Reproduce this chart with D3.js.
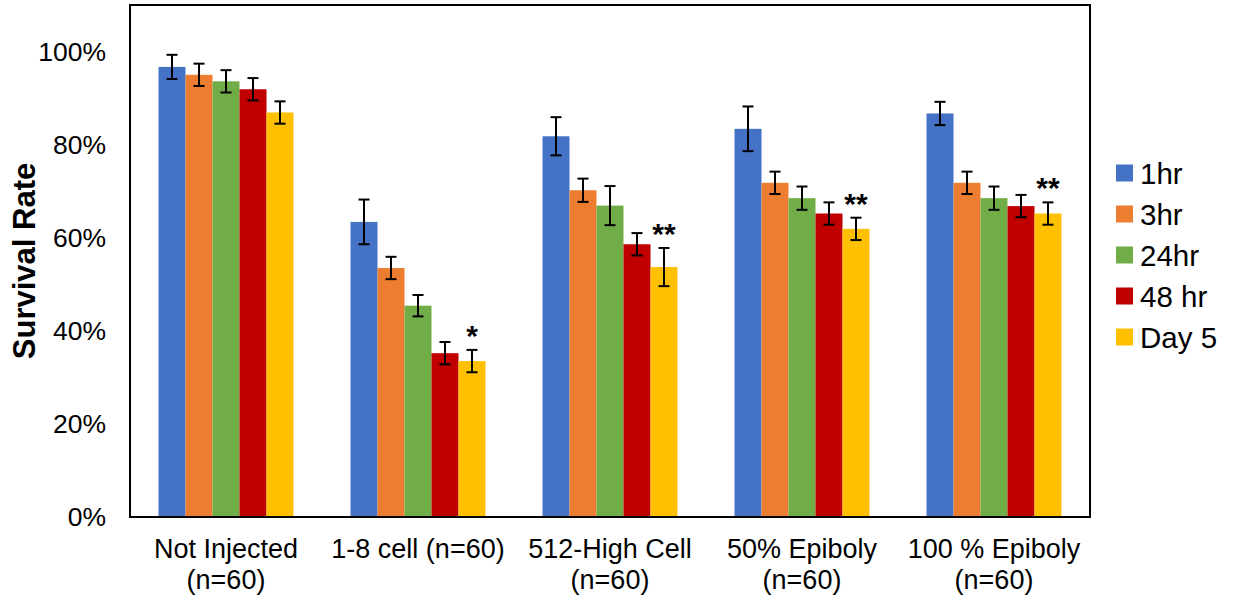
<html>
<meta charset="utf-8">
<head>
<script src="https://cdn.jsdelivr.net/npm/d3@7"></script>
<style>
  html, body { margin:0; padding:0; background:#fff; }
  svg { display:block; }
  text { font-family: Arial, "Liberation Sans", sans-serif; }
</style>
</head>
<body>
<svg class="svg"></svg>
<script>

// data
const groups = ["Not Injected", "1-8 cell", "512-High Cell", "50% Epiboly", "100 % Epiboly"]
const groupLabels = [["Not Injected", "(n=60)"], ["1-8 cell (n=60)"], ["512-High Cell", "(n=60)"], ["50% Epiboly", "(n=60)"], ["100 % Epiboly", "(n=60)"]]
const series = ["1hr", "3hr", "24hr", "48 hr", "Day 5"]
const colors = ["#4472C4", "#ED7D31", "#70AD47", "#C00000", "#FFC000"]

const v1hr  = [0.967, 0.634, 0.818, 0.834, 0.867]
const v3hr  = [0.950, 0.535, 0.702, 0.718, 0.718]
const v24hr = [0.936, 0.454, 0.669, 0.685, 0.685]
const v48hr = [0.919, 0.352, 0.586, 0.652, 0.668]
const vDay5 = [0.869, 0.335, 0.537, 0.619, 0.652]

const e1hr  = [0.026, 0.048, 0.041, 0.048, 0.025]
const e3hr  = [0.024, 0.024, 0.025, 0.024, 0.024]
const e24hr = [0.024, 0.023, 0.042, 0.025, 0.025]
const e48hr = [0.024, 0.024, 0.024, 0.024, 0.024]
const eDay5 = [0.024, 0.024, 0.041, 0.024, 0.024]

// significance marks, drawn above the Day 5 bar
const stars = ["", "*", "**", "**", "**"]

const yTicks = [0, 0.2, 0.4, 0.6, 0.8, 1.0]

const values = [v1hr, v3hr, v24hr, v48hr, vDay5]
const errors = [e1hr, e3hr, e24hr, e48hr, eDay5]

const data = []
series.forEach((s, si) => {
  groups.forEach((g, gi) => {
    data.push({group: g, gi: gi, series: s, si: si, value: values[si][gi], err: errors[si][gi]})
  })
})

const W = 1239, H = 596
const margin = ({left:130, top:5, right:149, bottom:79})
const plot = ({width: W - margin.left - margin.right, height: H - margin.top - margin.bottom})

const svg = d3.select("svg").attr("width", W).attr("height", H)

const x0 = d3.scaleBand()
  .domain(groups)
  .range([0, plot.width])
  .paddingInner(0.297)
  .paddingOuter(0.1485)

const x1 = d3.scaleBand()
  .domain(series)
  .range([0, x0.bandwidth()])
  .padding(0)

const y = d3.scaleLinear()
  .domain([0, 1.1])
  .range([plot.height, 0])

const color = d3.scaleOrdinal().domain(series).range(colors)

const g = svg.append("g")
  .attr("transform", "translate(" + margin.left + "," + margin.top + ")")

// bars
g.selectAll(".bar")
  .data(data)
  .enter().append("rect")
  .attr("class", "bar")
  .attr("x", d => x0(d.group) + x1(d.series))
  .attr("width", x1.bandwidth())
  .attr("y", d => y(d.value))
  .attr("height", d => y(0) - y(d.value))
  .attr("fill", d => color(d.series))

// error bars
const eb = g.selectAll(".err")
  .data(data)
  .enter().append("g")
  .attr("class", "err")
  .attr("transform", d => "translate(" + (x0(d.group) + x1(d.series) + x1.bandwidth() / 2) + ",0)")
  .attr("stroke", "#000")
  .attr("stroke-width", 2)

eb.append("line")
  .attr("x1", 0).attr("x2", 0)
  .attr("y1", d => y(d.value + d.err))
  .attr("y2", d => y(d.value - d.err))
eb.append("line")
  .attr("x1", -5.5).attr("x2", 5.5)
  .attr("y1", d => y(d.value + d.err))
  .attr("y2", d => y(d.value + d.err))
eb.append("line")
  .attr("x1", -5.5).attr("x2", 5.5)
  .attr("y1", d => y(d.value - d.err))
  .attr("y2", d => y(d.value - d.err))

// stars
g.selectAll(".star")
  .data(data.filter(d => d.si === 4 && stars[d.gi] !== ""))
  .enter().append("text")
  .attr("class", "star")
  .attr("x", d => x0(d.group) + x1(d.series) + x1.bandwidth() / 2)
  .attr("y", d => y(d.value + d.err) - 4)
  .attr("text-anchor", "middle")
  .style("font-size", "30px")
  .style("font-weight", "bold")
  .attr("fill", "#000")
  .text(d => stars[d.gi])

// y axis labels (no tick marks)
const yAxis = d3.axisLeft(y)
  .tickValues(yTicks)
  .tickFormat(d3.format(".0%"))
  .tickSize(0)
  .tickPadding(24)

g.append("g")
  .call(yAxis)
  .call(a => a.select(".domain").remove())
  .selectAll("text")
  .style("font-size", "26.5px")
  .attr("fill", "#000")

// x labels
const xl = g.selectAll(".xlab")
  .data(groups)
  .enter().append("text")
  .attr("class", "xlab")
  .attr("x", d => x0(d) + x0.bandwidth() / 2)
  .attr("y", plot.height + 41)
  .attr("text-anchor", "middle")
  .style("font-size", "27px")
  .attr("fill", "#000")

xl.selectAll("tspan")
  .data((d, i) => groupLabels[i])
  .enter().append("tspan")
  .attr("x", function() { return d3.select(this.parentNode).attr("x") })
  .attr("dy", (d, i) => i === 0 ? 0 : 31)
  .text(d => d)

// plot frame
g.append("rect")
  .attr("x", 0).attr("y", 0)
  .attr("width", plot.width).attr("height", plot.height)
  .attr("fill", "none")
  .attr("stroke", "#000")
  .attr("stroke-width", 2)

// y title
svg.append("text")
  .attr("transform", "translate(35," + (margin.top + y(0.55)) + ") rotate(-90)")
  .attr("text-anchor", "middle")
  .style("font-size", "31px")
  .style("font-weight", "bold")
  .attr("fill", "#000")
  .text("Survival Rate")

// legend
const lg = svg.append("g")
  .attr("transform", "translate(1116,173)")

const li = lg.selectAll(".li")
  .data(series)
  .enter().append("g")
  .attr("transform", (d, i) => "translate(0," + (i * 41) + ")")

li.append("rect")
  .attr("x", 0).attr("y", -8.5)
  .attr("width", 17).attr("height", 17)
  .attr("fill", d => color(d))

li.append("text")
  .attr("x", 24)
  .attr("y", 11)
  .style("font-size", "29.5px")
  .attr("fill", "#000")
  .text(d => d)

</script>
</body>
</html>
